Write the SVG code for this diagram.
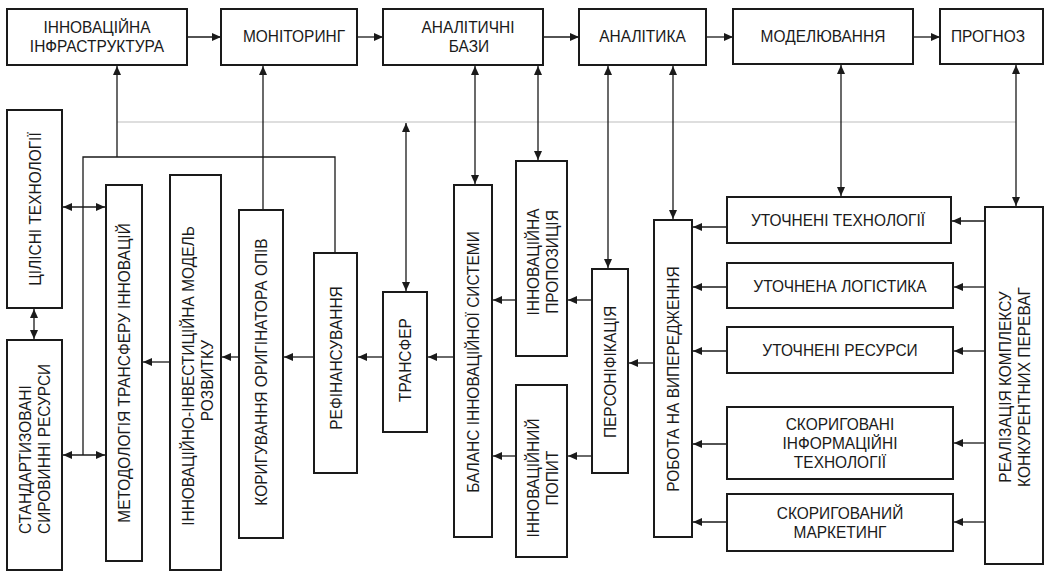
<svg xmlns="http://www.w3.org/2000/svg" width="1046" height="572" viewBox="0 0 1046 572">
<defs>
<style>
.b{fill:#fff;stroke:#1a1a1a;stroke-width:2}
.t{font-family:"Liberation Sans",Arial,sans-serif;font-size:17px;fill:#1a1a1a;text-anchor:middle}
.c{fill:none;stroke:#1a1a1a;stroke-width:1.3}
.g{fill:none;stroke:#bdbdbd;stroke-width:1}
.a{marker-end:url(#ah)}
.d{marker-end:url(#ah);marker-start:url(#ah)}
</style>
<marker id="ah" markerUnits="userSpaceOnUse" markerWidth="9" markerHeight="8" refX="9" refY="4" orient="auto-start-reverse">
<path d="M0,0 L9,4 L0,8 z" fill="#1a1a1a"/>
</marker>
</defs>
<rect width="1046" height="572" fill="#fff"/>

<g id="connectors">
<path class="g" d="M117,122 H1016"/>
<path class="c a" d="M187,37 H221"/>
<path class="c a" d="M357,37 H383"/>
<path class="c a" d="M543,37 H579"/>
<path class="c a" d="M706,37 H733"/>
<path class="c a" d="M913,37 H940"/>
<path class="c a" d="M117,157 V66"/>
<path class="c" d="M83,455 V157 H335 V253"/>
<path class="c d" d="M63,455 H105"/>
<path class="c d" d="M63,207 H105"/>
<path class="c d" d="M34,309 V339"/>
<path class="c a" d="M263,210 V66"/>
<path class="c d" d="M406,123 V291"/>
<path class="c d" d="M475,66 V184"/>
<path class="c d" d="M538,66 V160"/>
<path class="c d" d="M608,66 V268"/>
<path class="c d" d="M673,66 V219"/>
<path class="c d" d="M841,65 V196"/>
<path class="c d" d="M1016,65 V206"/>
<path class="c a" d="M516,300 H493"/>
<path class="c a" d="M592,300 H568"/>
<path class="c a" d="M654,363 H629"/>
<path class="c a" d="M592,456 H568"/>
<path class="c a" d="M516,456 H493"/>
<path class="c a" d="M454,357 H428"/>
<path class="c a" d="M383,357 H358"/>
<path class="c a" d="M314,357 H284"/>
<path class="c a" d="M239,357 H222"/>
<path class="c a" d="M170,362 H143"/>
<path class="c a" d="M985,221 H952"/>
<path class="c a" d="M985,287 H954"/>
<path class="c a" d="M985,351 H954"/>
<path class="c a" d="M985,443 H954"/>
<path class="c a" d="M985,522 H954"/>
<path class="c a" d="M727,227 H693"/>
<path class="c a" d="M727,287 H693"/>
<path class="c a" d="M727,351 H693"/>
<path class="c a" d="M727,444 H693"/>
<path class="c a" d="M727,522 H693"/>
</g>

<g id="n1"><rect class="b" x="7" y="9" width="180" height="56"/><text class="t" transform="translate(97,33) scale(0.91,1)">ІННОВАЦІЙНА</text><text class="t" transform="translate(97,52) scale(0.91,1)">ІНФРАСТРУКТУРА</text></g>
<g id="n2"><rect class="b" x="221" y="9" width="136" height="56"/><text class="t" transform="translate(294,42) scale(0.91,1)">МОНІТОРИНГ</text></g>
<g id="n3"><rect class="b" x="383" y="9" width="160" height="56"/><text class="t" transform="translate(468,33) scale(0.91,1)">АНАЛІТИЧНІ</text><text class="t" transform="translate(469,52) scale(0.91,1)">БАЗИ</text></g>
<g id="n4"><rect class="b" x="579" y="9" width="127" height="56"/><text class="t" transform="translate(642.5,42) scale(0.91,1)">АНАЛІТИКА</text></g>
<g id="n5"><rect class="b" x="733" y="9" width="180" height="55"/><text class="t" transform="translate(823,42) scale(0.91,1)">МОДЕЛЮВАННЯ</text></g>
<g id="n6"><rect class="b" x="940" y="9" width="103" height="55"/><text class="t" transform="translate(988,42) scale(0.91,1)">ПРОГНОЗ</text></g>

<g id="n7"><rect class="b" x="7" y="110" width="55" height="198"/><text class="t" transform="translate(34.5,209) rotate(-90) scale(0.91,1)" y="6">ЦІЛІСНІ ТЕХНОЛОГІЇ</text></g>
<g id="n8"><rect class="b" x="7" y="340" width="55" height="230"/><text class="t" transform="translate(34.5,534) rotate(-90) scale(0.91,1)" style="text-anchor:start"><tspan x="0" y="-3.4">СТАНДАРТИЗОВАНІ</tspan><tspan x="0" y="15.6">СИРОВИННІ РЕСУРСИ</tspan></text></g>
<g id="n9"><rect class="b" x="106" y="185" width="36" height="376"/><text class="t" transform="translate(124,373) rotate(-90) scale(0.91,1)" y="6">МЕТОДОЛОГІЯ ТРАНСФЕРУ ІННОВАЦІЙ</text></g>
<g id="n10"><rect class="b" x="170" y="175" width="51" height="395"/><text class="t" transform="translate(197,376) rotate(-90) scale(0.91,1)"><tspan x="0" y="-3.4">ІННОВАЦІЙНО-ІНВЕСТИЦІЙНА МОДЕЛЬ</tspan><tspan x="-5" y="15.6">РОЗВИТКУ</tspan></text></g>
<g id="n11"><rect class="b" x="239" y="210" width="44" height="328"/><text class="t" transform="translate(261,372) rotate(-90) scale(0.91,1)" y="6">КОРИГУВАННЯ ОРИГІНАТОРА ОПІВ</text></g>
<g id="n12"><rect class="b" x="314" y="253" width="43" height="220"/><text class="t" transform="translate(335.5,358) rotate(-90) scale(0.91,1)" y="6">РЕФІНАНСУВАННЯ</text></g>
<g id="n13"><rect class="b" x="383" y="292" width="44" height="140"/><text class="t" transform="translate(405,360) rotate(-90) scale(0.91,1)" y="6">ТРАНСФЕР</text></g>
<g id="n14"><rect class="b" x="454" y="185" width="38" height="352"/><text class="t" transform="translate(473,362) rotate(-90) scale(0.91,1)" y="6">БАЛАНС ІННОВАЦІЙНОЇ СИСТЕМИ</text></g>
<g id="n15"><rect class="b" x="516" y="161" width="51" height="195"/><text class="t" transform="translate(542,262) rotate(-90) scale(0.91,1)"><tspan x="0" y="-3.4">ІННОВАЦІЙНА</tspan><tspan x="0" y="15.6">ПРОПОЗИЦІЯ</tspan></text></g>
<g id="n16"><rect class="b" x="516" y="385" width="51" height="172"/><text class="t" transform="translate(542,478) rotate(-90) scale(0.91,1)"><tspan x="0" y="-3.4">ІННОВАЦІЙНИЙ</tspan><tspan x="0" y="15.6">ПОПИТ</tspan></text></g>
<g id="n17"><rect class="b" x="592" y="269" width="36" height="204"/><text class="t" transform="translate(610,372) rotate(-90) scale(0.91,1)" y="6">ПЕРСОНІФІКАЦІЯ</text></g>
<g id="n18"><rect class="b" x="654" y="220" width="38" height="317"/><text class="t" transform="translate(673,379) rotate(-90) scale(0.91,1)" y="6">РОБОТА НА ВИПЕРЕДЖЕННЯ</text></g>

<g id="n19"><rect class="b" x="727" y="197" width="224" height="46"/><text class="t" transform="translate(838,226) scale(0.91,1)">УТОЧНЕНІ ТЕХНОЛОГІЇ</text></g>
<g id="n20"><rect class="b" x="727" y="263" width="226" height="45"/><text class="t" transform="translate(840,291.5) scale(0.91,1)">УТОЧНЕНА ЛОГІСТИКА</text></g>
<g id="n21"><rect class="b" x="727" y="327" width="226" height="46"/><text class="t" transform="translate(840,356) scale(0.91,1)">УТОЧНЕНІ РЕСУРСИ</text></g>
<g id="n22"><rect class="b" x="727" y="407" width="226" height="72"/><text class="t" transform="translate(840,430) scale(0.91,1)">СКОРИГОВАНІ</text><text class="t" transform="translate(840,449) scale(0.91,1)">ІНФОРМАЦІЙНІ</text><text class="t" transform="translate(840,468) scale(0.91,1)">ТЕХНОЛОГІЇ</text></g>
<g id="n23"><rect class="b" x="727" y="494" width="226" height="57"/><text class="t" transform="translate(840,519) scale(0.91,1)">СКОРИГОВАНИЙ</text><text class="t" transform="translate(840,538) scale(0.91,1)">МАРКЕТИНГ</text></g>
<g id="n24"><rect class="b" x="985" y="207" width="58" height="357"/><text class="t" transform="translate(1014,387) rotate(-90) scale(0.91,1)"><tspan x="0" y="-3.4">РЕАЛІЗАЦІЯ КОМПЛЕКСУ</tspan><tspan x="0" y="15.6">КОНКУРЕНТНИХ ПЕРЕВАГ</tspan></text></g>
</svg>
